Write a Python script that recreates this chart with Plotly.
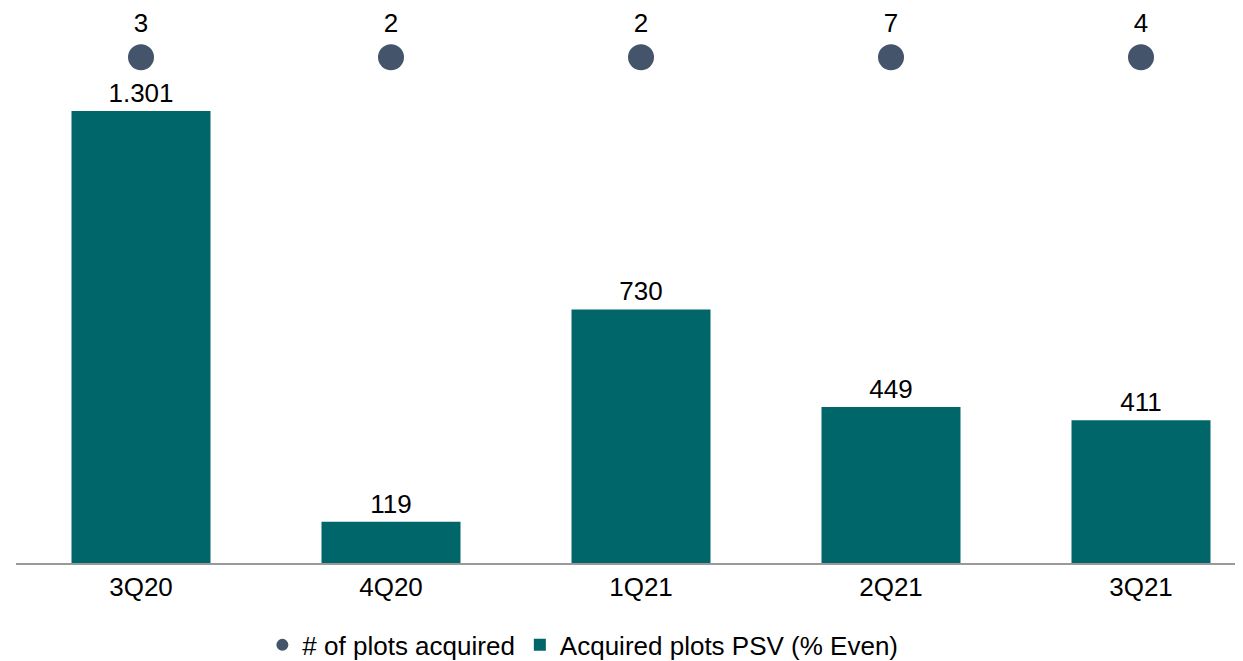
import plotly.graph_objects as go

quarters = ["3Q20", "4Q20", "1Q21", "2Q21", "3Q21"]
psv_values = [1301, 119, 730, 449, 411]
psv_labels = ["1.301", "119", "730", "449", "411"]
plots_acquired = [3, 2, 2, 7, 4]

BAR_COLOR = "#00666A"
DOT_COLOR = "#44546A"
FONT = "Liberation Sans, Arial, sans-serif"

marker_level = 1456  # fixed height of the count markers (value axis units)
label_level = 1546

fig = go.Figure()

fig.add_trace(go.Scatter(
    x=quarters, y=[marker_level] * len(quarters),
    mode="markers",
    marker=dict(color=DOT_COLOR, size=26, symbol="circle"),
    name="# of plots acquired",
    cliponaxis=False,
))
fig.add_trace(go.Scatter(
    x=quarters, y=[label_level] * len(quarters),
    mode="text",
    text=[str(v) for v in plots_acquired],
    textfont=dict(size=26, color="#000000", family=FONT),
    showlegend=False,
    cliponaxis=False,
    hoverinfo="skip",
))
fig.add_trace(go.Bar(
    x=quarters, y=psv_values,
    marker=dict(color=BAR_COLOR, line=dict(width=0)),
    width=0.556,
    text=psv_labels,
    textposition="outside",
    textfont=dict(size=26, color="#000000", family=FONT),
    name="Acquired plots PSV (% Even)",
    cliponaxis=False,
))

fig.update_layout(
    width=1235, height=661,
    margin=dict(l=8, r=0, t=0, b=106),
    paper_bgcolor="white", plot_bgcolor="white",
    font=dict(family=FONT, size=26, color="#000000"),
    showlegend=True,
    legend=dict(
        orientation="h", x=0.462, xanchor="center", y=-0.1477, yanchor="middle",
        font=dict(size=26, color="#000000", family=FONT),
        traceorder="normal", itemsizing="constant",
    ),
    bargap=0.444,
)
fig.update_xaxes(
    type="category", range=[-0.5, 4.408],
    showline=True, linecolor="#999999", linewidth=2,
    showgrid=False, zeroline=False, ticks="",
    tickfont=dict(size=26, color="#000000", family=FONT),
)
fig.update_yaxes(
    range=[0, 1597.6], visible=False, showgrid=False, zeroline=False,
)

fig.write_html("out.html")
